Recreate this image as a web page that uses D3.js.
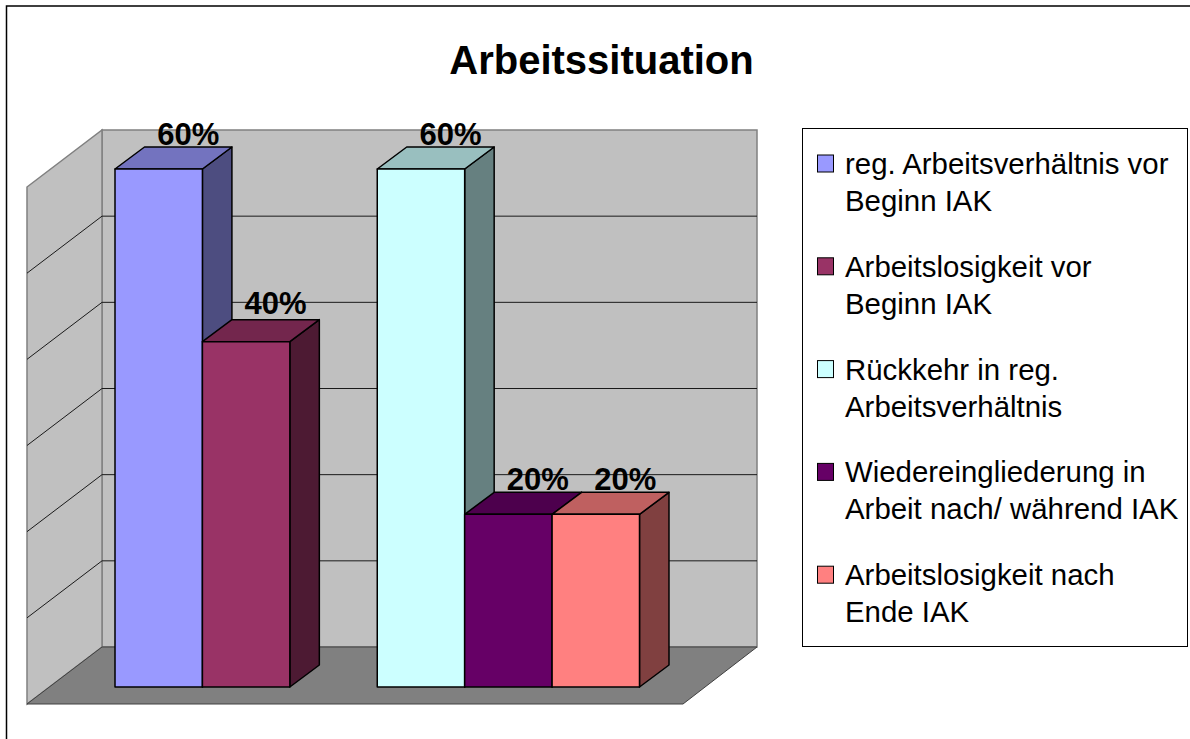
<!DOCTYPE html>
<html>
<head>
<meta charset="utf-8">
<script src="https://cdn.jsdelivr.net/npm/d3@7"></script>
<style>
  html, body { margin: 0; padding: 0; background: #fff; }
  svg { display: block; }
  text { font-family: "Liberation Sans", Arial, sans-serif; fill: #000; }
</style>
</head>
<body>
<script>
'use strict';

// chart data
const titleText = "Arbeitssituation";
const seriesNames = [
  ["reg. Arbeitsverhältnis vor", "Beginn IAK"],
  ["Arbeitslosigkeit vor", "Beginn IAK"],
  ["Rückkehr in reg.", "Arbeitsverhältnis"],
  ["Wiedereingliederung in", "Arbeit nach/ während IAK"],
  ["Arbeitslosigkeit nach", "Ende IAK"]
];
const seriesValues = [60, 40, 60, 20, 20];
const seriesSlots = [0, 1, 3, 4, 5]; // slot 2 is the gap between the two groups
const seriesColors = ["#9999FF", "#993366", "#CCFFFF", "#660066", "#FF8080"];
const gridTicks = [0, 10, 20, 30, 40, 50, 60];

// layout of the fake 3d box
const depthX = 29.5, depthY = 22;      // bar depth
const wall = { left: 102, right: 757, top: 130, bottom: 647 };
const floorFront = { left: 27, right: 683, y: 704 };

const svg = d3.select("body").append("svg")
  .attr("width", 1190)
  .attr("height", 739);

// frame: only top and left edges show in the picture
svg.append("path")
  .attr("d", "M6.5,739V6H1190")
  .attr("fill", "none")
  .attr("stroke", "#000")
  .attr("stroke-width", 1.5);

// title
svg.append("text")
  .attr("x", 601.5)
  .attr("y", 74)
  .attr("text-anchor", "middle")
  .style("font-size", "40px")
  .style("font-weight", "bold")
  .text(titleText);

// scales
const yBack = d3.scaleLinear().domain([0, 60]).range([wall.bottom, wall.top]);
const yBar = d3.scaleLinear().domain([0, 60]).range([687, 169]);
const xBar = d3.scaleBand().domain(d3.range(6)).range([115, 639.5]);

// walls and floor
const poly = (pts) => "M" + pts.map(p => p.join(",")).join("L") + "Z";
const sideDy = floorFront.y - wall.bottom;

svg.append("path")
  .attr("d", poly([[wall.left, wall.top], [wall.right, wall.top], [wall.right, wall.bottom], [wall.left, wall.bottom]]))
  .attr("fill", "#C0C0C0").attr("stroke", "#808080").attr("stroke-width", 1.5);

svg.append("path")
  .attr("d", poly([[floorFront.left, yBack(60) + sideDy], [wall.left, wall.top], [wall.left, wall.bottom], [floorFront.left, floorFront.y]]))
  .attr("fill", "#C0C0C0").attr("stroke", "#808080").attr("stroke-width", 1.5);

svg.append("path")
  .attr("d", poly([[floorFront.left, floorFront.y], [wall.left, wall.bottom], [wall.right, wall.bottom], [floorFront.right, floorFront.y]]))
  .attr("fill", "#808080").attr("stroke", "#404040").attr("stroke-width", 1);

// gridlines on back and side wall
const grid = svg.append("g").attr("stroke", "#1a1a1a").attr("fill", "none");
gridTicks.filter(t => t > 0 && t < 60).forEach(t => {
  const y = yBack(t);
  grid.append("path").attr("d", d3.line()([[floorFront.left, y + sideDy], [wall.left, y], [wall.right, y]]));
});

// bars: side, top, front
const bars = svg.append("g").attr("stroke", "#000").attr("stroke-width", 1.5).attr("stroke-linejoin", "round");
seriesValues.forEach((v, i) => {
  const c = d3.color(seriesColors[i]);
  const x0 = xBar(seriesSlots[i]);
  const x1 = x0 + xBar.bandwidth();
  const yt = yBar(v);
  const yb = yBar(0);
  const shade = (k) => d3.rgb(c.r * k, c.g * k, c.b * k);

  bars.append("path")
    .attr("d", poly([[x1, yt], [x1 + depthX, yt - depthY], [x1 + depthX, yb - depthY], [x1, yb]]))
    .attr("fill", shade(0.5));
  bars.append("path")
    .attr("d", poly([[x0, yt], [x0 + depthX, yt - depthY], [x1 + depthX, yt - depthY], [x1, yt]]))
    .attr("fill", shade(0.75));
  bars.append("path")
    .attr("d", poly([[x0, yt], [x1, yt], [x1, yb], [x0, yb]]))
    .attr("fill", seriesColors[i]);
});

// value labels
const labelRaise = 24;
svg.append("g").selectAll("text")
  .data(seriesValues)
  .join("text")
  .attr("x", (d, i) => xBar(seriesSlots[i]) + xBar.bandwidth() / 2 + depthX)
  .attr("y", d => yBar(d) - labelRaise - (d === 40 ? 4 : 0))
  .attr("text-anchor", "middle")
  .style("font-size", "31px")
  .style("font-weight", "bold")
  .text(d => d + "%");

// legend
const legend = svg.append("g");
legend.append("rect")
  .attr("x", 802.5).attr("y", 128.5)
  .attr("width", 385).attr("height", 518)
  .attr("fill", "#fff").attr("stroke", "#000");

seriesNames.forEach((lines, i) => {
  const y0 = 174 + i * 102.8;
  legend.append("rect")
    .attr("x", 817.5).attr("y", y0 - 19)
    .attr("width", 16).attr("height", 17)
    .attr("fill", seriesColors[i]).attr("stroke", "#000");
  lines.forEach((line, j) => {
    legend.append("text")
      .attr("x", 845)
      .attr("y", y0 + j * 37)
      .style("font-size", "29.4px")
      .text(line);
  });
});
</script>
</body>
</html>
